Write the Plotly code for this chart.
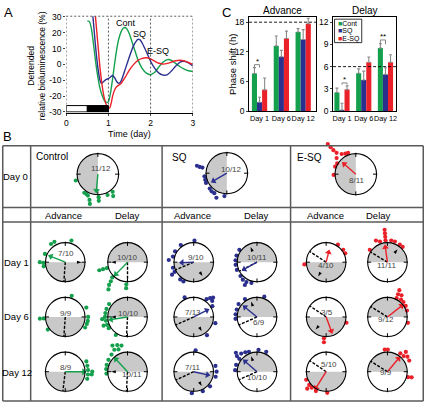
import plotly.graph_objects as go

W, H = 427, 408
FONT = "Liberation Sans, Arial, Helvetica, sans-serif"
GREEN, BLUE, RED = "#14a04c", "#2b2f8e", "#ea2129"
SHADE = "#c9c9c9"

# ---------------- Panel A data (time in days, detrended bioluminescence %) -------------
CONT_T = [0.50, 0.55, 0.60, 0.65, 0.70, 0.75, 0.80, 0.85, 0.90, 0.95, 1.00, 1.05, 1.10, 1.15, 1.20,
          1.25, 1.30, 1.35, 1.40, 1.45, 1.50, 1.60, 1.70, 1.80, 1.90, 2.00, 2.10, 2.20, 2.30, 2.40,
          2.50, 2.60, 2.70, 2.80, 2.90, 3.00]
CONT_V = [27.5, 27, 22, 12, 1, -8, -15, -19.5, -22.5, -24, -23.5, -18, -9, 1, 10,
          16.5, 20.5, 22.8, 23.3, 22, 19, 11, 3, -2.5, -5.5, -6.5, -5, -1.5, 1.5, 3,
          2.5, 0.5, -1.5, -3, -4, -4.5]
SQ_T = [0.63, 0.66, 0.70, 0.75, 0.80, 0.83, 0.88, 0.95, 1.00, 1.05, 1.10, 1.15, 1.20, 1.25, 1.30,
        1.40, 1.50, 1.60, 1.70, 1.75, 1.80, 1.90, 2.00, 2.10, 2.20, 2.30, 2.40, 2.50, 2.60, 2.70,
        2.80, 2.90, 3.00]
SQ_V = [31, 22, 10, -2, -10, -12, -11, -9.5, -9, -8, -7, -8.5, -11, -12, -10.5,
        -3, 5, 12, 15.8, 15.5, 13.5, 8, 2, -2.5, -5.5, -6.8, -6.5, -4, -1, 1.5,
        2, 1, -1]
ESQ_T = [0.69, 0.72, 0.76, 0.80, 0.85, 0.90, 0.95, 1.00, 1.03, 1.07, 1.10, 1.15, 1.20, 1.25, 1.30,
         1.40, 1.50, 1.60, 1.70, 1.80, 1.90, 2.00, 2.10, 2.20, 2.30, 2.40, 2.50, 2.60, 2.70, 2.80,
         2.90, 3.00]
ESQ_V = [31, 22, 10, -2, -13, -21, -25.5, -27.5, -27.5, -24, -20, -16, -14, -13, -12,
         -8, -3.5, 0, 2.5, 3.8, 4.2, 3.5, 2, 0.7, 0.2, 0.6, 1.5, 2.3, 2.6, 2.2,
         1.2, 0]
A_XTICKS = [0, 1, 2, 3]
A_YTICKS = [-30, -20, -10, 0, 10, 20, 30]
A_YTICKTEXT = ["-30", "-20", "-10", "0", "10", "20", "30"]
LD_EDGES = [0, 0.5, 1.0]          # light / dark bar boundaries (days)
LD_FILL = ["white", "black"]
A_DASH_X = [1, 2]

# ---------------- Panel C data (phase shift, h) ----------------
C_DAYS = ["Day 1", "Day 6", "Day 12"]
GROUPS = ["Cont", "SQ", "E-SQ"]
ADV_CONT, ADV_CONT_ERR = [7.6, 13.2, 16.0], [1.2, 2.0, 0.7]
ADV_SQ, ADV_SQ_ERR = [1.8, 11.0, 14.5], [1.0, 1.3, 2.0]
ADV_ESQ, ADV_ESQ_ERR = [4.3, 14.7, 17.7], [2.4, 1.5, 1.1]
DEL_CONT, DEL_CONT_ERR = [2.5, 5.1, 8.5], [0.6, 0.6, 0.6]
DEL_SQ, DEL_SQ_ERR = [0.15, 4.2, 4.95], [0.9, 1.2, 0.9]
DEL_ESQ, DEL_ESQ_ERR = [2.9, 6.6, 6.6], [0.5, 0.7, 1.0]
ADV_REF, DEL_REF = 18, 6
ADV_YTICKS = [0, 6, 12, 18]
DEL_YTICKS = [0, 3, 6, 9, 12]
# significance: (day index, group a, group b, bracket height, stars)
ADV_SIG = [(0, 0, 1, 9.4, "*")]
DEL_SIG = [(0, 1, 2, 3.8, "*"), (2, 0, 1, 9.6, "**")]

# ---------------- Panel B data (angles in degrees clockwise from top) ----------------
D0_LABELS = ["11/12", "10/12", "8/11"]
D0_VEC_A = [185, 240, 311]
D0_VEC_L = [0.8, 0.75, 0.75]
CTRL_D0_T = [254, 216, 210, 205, 198, 195, 178, 178, 155, 140, 145]
CTRL_D0_R = [1.12, 1.12, 1.12, 1.15, 1.32, 1.5, 1.12, 1.3, 1.12, 1.12, 1.3]
SQ_D0_T = [284, 283, 283, 262, 253, 245, 228, 220, 212, 203, 186]
SQ_D0_R = [1.5, 1.36, 1.22, 1.1, 1.1, 1.12, 1.12, 1.15, 1.15, 1.3, 1.12]
ESQ_D0_T = [317, 317, 317, 318, 325, 333, 340, 300, 290, 268, 310]
ESQ_D0_R = [2.0, 1.8, 1.6, 1.4, 1.2, 1.12, 1.1, 1.05, 1.07, 1.08, 1.22]

CTRL_ADV_T = [[322, 332, 16, 292, 270, 268, 259],
              [17, 66, 90, 100, 108, 118, 266, 266, 234],
              [64, 75, 86, 90, 97, 96, 108]]
CTRL_ADV_R = [[1.18, 1.18, 1.15, 1.12, 1.3, 1.12, 1.12],
              [1.13, 1.18, 1.17, 1.17, 1.16, 1.15, 1.3, 1.1, 1.1],
              [1.2, 1.17, 1.17, 1.38, 1.17, 1.36, 1.18]]
CTRL_ADV_VEC_A, CTRL_ADV_VEC_L = [292, None, 90], [0.8, None, 0.95]
CTRL_ADV_DASH_A, CTRL_ADV_MARK_A = [184, 184, 187], [90, None, None]
CTRL_ADV_LABELS = ["7/10", "9/9", "8/9"]

CTRL_DEL_T = [[254, 254, 254, 225, 221, 219, 215, 183, 183],
              [305, 291, 280, 270, 260, 249, 239, 213, 250, 265],
              [330, 339, 347, 329, 338, 317, 302, 288, 277, 265]]
CTRL_DEL_R = [[1.1, 1.3, 1.5, 1.1, 1.3, 1.5, 1.7, 1.13, 1.33],
              [1.15, 1.15, 1.15, 1.15, 1.12, 1.12, 1.12, 1.1, 1.3, 1.3],
              [1.54, 1.46, 1.37, 1.31, 1.23, 1.2, 1.15, 1.12, 1.1, 1.08]]
CTRL_DEL_VEC_A, CTRL_DEL_VEC_L = [224, 261, 317], [0.85, 0.85, 0.87]
CTRL_DEL_DASH_A, CTRL_DEL_MARK_A = [180, 183, 183], [270, 270, 270]
CTRL_DEL_LABELS = ["10/10", "10/10", "10/11"]

SQ_ADV_T = [[2, 323, 300, 285, 275, 255, 243, 240, 218, 208],
            [335, 36, 41, 49, 45, 106, 144, 60],
            [5, 75, 90, 103, 132, 185, 155]]
SQ_ADV_R = [[1.1, 1.1, 1.1, 1.1, 1.28, 1.1, 1.1, 1.28, 1.12, 1.12],
            [1.1, 1.12, 1.28, 1.25, 1.4, 1.15, 1.15, 1.1],
            [1.1, 1.15, 1.17, 1.15, 1.12, 1.1, 1.1]]
SQ_ADV_VEC_A, SQ_ADV_VEC_L = [268, 63, 103], [0.6, 0.75, 0.72]
SQ_ADV_DASH_A, SQ_ADV_MARK_A = [247, 246, 245], [148, 151, 151]
SQ_ADV_LABELS = ["9/10", "7/13", "7/11"]

SQ_DEL_T = [[305, 288, 275, 263, 249, 219, 208, 195, 208, 230],
            [326, 305, 290, 277, 265, 20],
            [308, 319, 329, 338, 306, 288, 274, 4, 25, 312]]
SQ_DEL_R = [[1.1, 1.1, 1.1, 1.1, 1.1, 1.15, 1.15, 1.1, 1.32, 1.1],
            [1.1, 1.15, 1.1, 1.1, 1.1, 1.1],
            [1.3, 1.23, 1.16, 1.1, 1.12, 1.12, 1.12, 1.12, 1.12, 1.45]]
SQ_DEL_VEC_A, SQ_DEL_VEC_L = [241, 309, 311], [0.74, 0.79, 0.8]
SQ_DEL_DASH_A, SQ_DEL_MARK_A = [243, 246, 246], [337, 339, 339]
SQ_DEL_LABELS = ["10/11", "6/9", "10/10"]

ESQ_ADV_T = [[34, 54, 65, 264],
             [106, 186, 185],
             [248, 232, 222, 208, 177, 228]]
ESQ_ADV_R = [[1.08, 1.08, 1.08, 1.12],
             [1.08, 1.1, 1.3],
             [1.1, 1.1, 1.1, 1.12, 1.08, 1.3]]
ESQ_ADV_VEC_A, ESQ_ADV_VEC_L = [14, 160, 212], [0.52, 0.77, 0.98]
ESQ_ADV_DASH_A, ESQ_ADV_MARK_A = [303, 304, 304], [209, 220, None]
ESQ_ADV_LABELS = ["4/10", "3/5", "5/10"]

ESQ_DEL_T = [[355, 355, 355, 355, 340, 332, 10, 20, 35, 45, 305],
             [24, 25, 33, 26, 38, 47, 59, 72, 106],
             [353, 1, 35, 46, 43, 53, 63, 105, 103]]
ESQ_DEL_R = [[1.12, 1.3, 1.48, 1.66, 1.12, 1.25, 1.12, 1.12, 1.1, 1.1, 1.1],
             [1.5, 1.28, 1.32, 1.07, 1.13, 1.12, 1.09, 1.05, 1.09],
             [1.14, 1.13, 1.15, 1.15, 1.38, 1.28, 1.25, 1.09, 1.27]]
ESQ_DEL_VEC_A, ESQ_DEL_VEC_L = [352, 52, 40], [0.77, 0.92, 0.88]
ESQ_DEL_DASH_A, ESQ_DEL_MARK_A = [301, 302, 302], [38, None, None]
ESQ_DEL_LABELS = ["11/11", "9/12", "9/9"]

ROW_LABELS = ["Day 1", "Day 6", "Day 12"]
CIRCLE_TICKS = [0, 90, 180, 270]

# ---------------- helpers ----------------
def fx(px):
    return px / W

def fy(py):
    return 1 - py / H

traces, shapes, annots = [], [], []
layout = dict(width=W, height=H, autosize=False,
              margin=dict(l=0, r=0, t=0, b=0, pad=0),
              paper_bgcolor="white", plot_bgcolor="rgba(0,0,0,0)",
              showlegend=False, font=dict(family=FONT, size=9, color="black"),
              barmode="group", bargap=0.3, bargroupgap=0)

def text(x, y, s, size=9, color="black", angle=0, xanchor="center"):
    annots.append(dict(x=fx(x), y=fy(y), xref="paper", yref="paper", text=s, showarrow=False,
                       font=dict(size=size, color=color, family=FONT), textangle=angle,
                       xanchor=xanchor, yanchor="middle"))

# ---------------- Panel A ----------------
for t, v, c in [(CONT_T, CONT_V, GREEN), (SQ_T, SQ_V, BLUE), (ESQ_T, ESQ_V, RED)]:
    traces.append(go.Scatter(x=t, y=v, mode="lines", line=dict(color=c, width=1.4, shape="spline", smoothing=0.7),
                             xaxis="x", yaxis="y", hoverinfo="skip"))
layout["xaxis"] = dict(domain=[fx(65), fx(193)], range=[0, 3], tickvals=A_XTICKS, ticks="outside", ticklen=2,
                       showline=True, linecolor="black", linewidth=1, zeroline=False, showgrid=False,
                       tickfont=dict(size=8.5), anchor="y")
layout["yaxis"] = dict(domain=[fy(111), fy(12.5)], range=[-30.4, 30.4], tickvals=A_YTICKS, ticktext=A_YTICKTEXT,
                       ticks="outside", ticklen=2, showline=False, zeroline=False, showgrid=False,
                       tickfont=dict(size=8.5), anchor="x")
dash_style = dict(color="#333", width=0.8, dash="2px,2px")
for xv in A_DASH_X + [0, 3]:
    shapes.append(dict(type="line", xref="x", yref="y domain", x0=xv, x1=xv, y0=0, y1=1, line=dash_style))
shapes.append(dict(type="line", xref="x domain", yref="y domain", x0=0, x1=1, y0=1, y1=1, line=dash_style))
for i in range(len(LD_EDGES) - 1):
    shapes.append(dict(type="rect", xref="x", yref="y", x0=LD_EDGES[i], x1=LD_EDGES[i + 1], y0=-30, y1=-26,
                       fillcolor=LD_FILL[i], line=dict(color="black", width=1)))
text(125, 19, "Cont", 9)
text(139, 31, "SQ", 9)
text(158, 48, "E-SQ", 9)
text(129, 133, "Time (day)", 9)
text(35, 63, "Detrended<br>relative bioluminescence (%)", 8.5, angle=-90)
text(7, 9, "A", 13)

# ---------------- Panel C ----------------
BAR_W = (1 - layout["bargap"]) / 3
panels = [("x2", "y2", [ADV_CONT, ADV_SQ, ADV_ESQ], [ADV_CONT_ERR, ADV_SQ_ERR, ADV_ESQ_ERR], ADV_REF, ADV_SIG),
          ("x3", "y3", [DEL_CONT, DEL_SQ, DEL_ESQ], [DEL_CONT_ERR, DEL_SQ_ERR, DEL_ESQ_ERR], DEL_REF, DEL_SIG)]
for xa, ya, vals, errs, ref, sig in panels:
    for g, (v, e, c) in enumerate(zip(vals, errs, [GREEN, BLUE, RED])):
        traces.append(go.Bar(x=C_DAYS, y=v, name=GROUPS[g], marker=dict(color=c, line=dict(width=0)),
                             error_y=dict(type="data", array=e, arrayminus=[0] * len(e), symmetric=False,
                                          color="#8a8a8a", thickness=1.1, width=1.5),
                             xaxis=xa, yaxis=ya, hoverinfo="skip"))
    shapes.append(dict(type="line", xref=xa + " domain", yref=ya, x0=0, x1=1, y0=ref, y1=ref,
                       line=dict(color="black", width=0.9, dash="3px,2px")))
    for day, ga, gb, h, stars in sig:
        xa_c = day + (ga - 1) * BAR_W
        xb_c = day + (gb - 1) * BAR_W
        leg = h * 0.06
        shapes.append(dict(type="path", xref=xa, yref=ya,
                           path=f"M {xa_c},{h - leg} L {xa_c},{h} L {xb_c},{h} L {xb_c},{h - leg}",
                           line=dict(color="#777", width=0.9)))
        annots.append(dict(x=(xa_c + xb_c) / 2, y=h, xref=xa, yref=ya, text=stars, showarrow=False,
                           font=dict(size=8, family=FONT), yanchor="bottom", yshift=-3))

common_x = dict(type="category", showline=True, mirror=True, linecolor="black", linewidth=1, ticks="",
                showgrid=False, zeroline=False, tickfont=dict(size=7.3), tickangle=0)
common_y = dict(showline=True, mirror=True, linecolor="black", linewidth=1, ticks="outside", ticklen=2,
                showgrid=False, zeroline=False, tickfont=dict(size=8.5))
layout["xaxis2"] = dict(common_x, domain=[fx(250), fx(318)], range=[-0.48, 2.6], anchor="y2")
layout["yaxis2"] = dict(common_y, domain=[fy(109.5), fy(13.3)], range=[0, 19.05], tickvals=ADV_YTICKS, anchor="x2")
layout["xaxis3"] = dict(common_x, domain=[fx(335), fx(399)], range=[-0.41, 2.5], anchor="y3")
layout["yaxis3"] = dict(common_y, domain=[fy(109.5), fy(13.3)], range=[0, 12.7], tickvals=DEL_YTICKS, anchor="x3")
text(284, 7, "Advance", 10)
text(367, 7, "Delay", 10)
text(233, 62, "Phase shift (h)", 9.5, angle=-90)
text(227, 9, "C", 13)
# legend (inside delay panel)
shapes.append(dict(type="rect", xref="paper", yref="paper", x0=fx(336.5), x1=fx(364), y0=fy(39.5), y1=fy(15.5),
                   line=dict(color="black", width=0.8)))
for i, (nm, c) in enumerate(zip(GROUPS, [GREEN, BLUE, RED])):
    text(338, 20 + 7.8 * i, f'<span style="color:{c}">■</span>{nm}', 7, xanchor="left")

# ---------------- Panel B (table of circular plots) ----------------
text(6, 136, "B", 13)
line_style = dict(color="#5a5a5a", width=1.5)
for xv in [0.75, 29, 162, 292, 426.25]:
    shapes.append(dict(type="line", xref="paper", yref="paper", x0=fx(xv), x1=fx(xv), y0=fy(145), y1=fy(406),
                       line=line_style))
for yv in [145, 208, 223, 406]:
    shapes.append(dict(type="line", xref="paper", yref="paper", x0=fx(0.75), x1=fx(426.25), y0=fy(yv), y1=fy(yv),
                       line=line_style))
text(14, 176, "Day 0", 9.5)
for lab, yv in zip(ROW_LABELS, [264, 320, 377]):
    text(15, yv, lab, 9.5)
text(51, 156, "Control", 10)
text(180, 157, "SQ", 10)
text(311, 157, "E-SQ", 10)
for xv, s in zip([62, 127, 193, 258, 327, 381], ["Advance", "Delay"] * 3):
    text(xv, 216, s, 9.5)

n_polar = [0]

def add_circle(cx, cy, rad, shade_c, dot_t, dot_r, color, vec_a, vec_l, dash_a, mark_a, label, ldx, ldy):
    n_polar[0] += 1
    k = n_polar[0]
    name = "polar" if k == 1 else f"polar{k}"
    # radial range large enough to hold the outer dots, but domain kept inside the page
    room = min(cx, W - cx, cy, H - cy) / rad
    rmax = min(max(dot_r) + 0.15, room - 0.01)
    span = rad * rmax
    layout[name] = dict(
        domain=dict(x=[fx(cx - span), fx(cx + span)], y=[fy(cy + span), fy(cy - span)]),
        bgcolor="rgba(0,0,0,0)",
        radialaxis=dict(visible=False, range=[0, rmax]),
        angularaxis=dict(visible=False, rotation=90, direction="clockwise"))
    traces.append(go.Barpolar(r=[1], theta=[shade_c], width=[180], marker=dict(color=SHADE, line=dict(width=0)),
                              subplot=name, hoverinfo="skip"))
    traces.append(go.Scatterpolar(r=[0.94] * len(CIRCLE_TICKS), theta=CIRCLE_TICKS, mode="markers",
                                  marker=dict(symbol="line-ns", size=3, angle=CIRCLE_TICKS,
                                              line=dict(color="black", width=1)),
                                  subplot=name, hoverinfo="skip"))
    if dash_a is not None:
        traces.append(go.Scatterpolar(r=[0, 1], theta=[dash_a, dash_a], mode="lines",
                                      line=dict(color="black", width=1.4, dash="3px,1.5px"),
                                      subplot=name, hoverinfo="skip"))
    if vec_a is not None:
        traces.append(go.Scatterpolar(r=[0, vec_l], theta=[vec_a, vec_a], mode="lines",
                                      line=dict(color=color, width=1.4), subplot=name, hoverinfo="skip"))
        traces.append(go.Scatterpolar(r=[vec_l], theta=[vec_a], mode="markers",
                                      marker=dict(symbol="triangle-up", size=6, angle=vec_a, color=color),
                                      subplot=name, hoverinfo="skip"))
    if mark_a is not None:
        traces.append(go.Scatterpolar(r=[0.84], theta=[mark_a], mode="markers",
                                      marker=dict(symbol="arrow", size=5, angle=mark_a, color="black"),
                                      subplot=name, hoverinfo="skip"))
    traces.append(go.Scatterpolar(r=dot_r, theta=dot_t, mode="markers", marker=dict(size=4.2, color=color),
                                  cliponaxis=False, subplot=name, hoverinfo="skip"))
    shapes.append(dict(type="circle", xref="paper", yref="paper", layer="above",
                       x0=fx(cx - rad), x1=fx(cx + rad), y0=fy(cy + rad), y1=fy(cy - rad),
                       line=dict(color="black", width=1.1)))
    text(cx + ldx, cy + ldy, label, 8, color="#444")

# Day 0 circles (left half shaded)
D0_CENTERS = [(97, 174), (227.5, 173), (358, 174)]
D0_LABEL_OFF = [(3, -6), (5, -4), (1, 6)]
for i, (dt, dr, c) in enumerate([(CTRL_D0_T, CTRL_D0_R, GREEN), (SQ_D0_T, SQ_D0_R, BLUE), (ESQ_D0_T, ESQ_D0_R, RED)]):
    cx, cy = D0_CENTERS[i]
    add_circle(cx, cy, 21, 270, dt, dr, c, D0_VEC_A[i], D0_VEC_L[i], None, None, D0_LABELS[i],
               *D0_LABEL_OFF[i])

ROW_Y = [264, 320, 376]
COLS = [
    (64, 180, GREEN, CTRL_ADV_T, CTRL_ADV_R, CTRL_ADV_VEC_A, CTRL_ADV_VEC_L, CTRL_ADV_DASH_A, CTRL_ADV_MARK_A,
     CTRL_ADV_LABELS, [(1, -9), (1, -4), (1, -4)]),
    (127, 0, GREEN, CTRL_DEL_T, CTRL_DEL_R, CTRL_DEL_VEC_A, CTRL_DEL_VEC_L, CTRL_DEL_DASH_A, CTRL_DEL_MARK_A,
     CTRL_DEL_LABELS, [(0, -5), (1, -4), (5, 3)]),
    (194, 180, BLUE, SQ_ADV_T, SQ_ADV_R, SQ_ADV_VEC_A, SQ_ADV_VEC_L, SQ_ADV_DASH_A, SQ_ADV_MARK_A,
     SQ_ADV_LABELS, [(2, -5), (-1, -5), (-1, -4)]),
    (258, 0, BLUE, SQ_DEL_T, SQ_DEL_R, SQ_DEL_VEC_A, SQ_DEL_VEC_L, SQ_DEL_DASH_A, SQ_DEL_MARK_A,
     SQ_DEL_LABELS, [(0, -5), (2, 6), (1, 6)]),
    (328, 180, RED, ESQ_ADV_T, ESQ_ADV_R, ESQ_ADV_VEC_A, ESQ_ADV_VEC_L, ESQ_ADV_DASH_A, ESQ_ADV_MARK_A,
     ESQ_ADV_LABELS, [(0, 3), (1, -5), (3, -7)]),
    (390, 0, RED, ESQ_DEL_T, ESQ_DEL_R, ESQ_DEL_VEC_A, ESQ_DEL_VEC_L, ESQ_DEL_DASH_A, ESQ_DEL_MARK_A,
     ESQ_DEL_LABELS, [(-1, 3), (-1, 3), (-1, 1)]),
]
for cx, shade_c, c, T, R, VA, VL, DA, MA, LABS, OFFS in COLS:
    for d in range(3):
        add_circle(cx, ROW_Y[d], 20, shade_c, T[d], R[d], c, VA[d], VL[d], DA[d], MA[d], LABS[d], *OFFS[d])

layout["shapes"] = shapes
layout["annotations"] = annots
fig = go.Figure(data=traces, layout=layout)
fig.write_html("out.html", config={"displayModeBar": False, "staticPlot": True},
               post_script="document.body.style.margin='0px';document.body.style.overflow='hidden';")
